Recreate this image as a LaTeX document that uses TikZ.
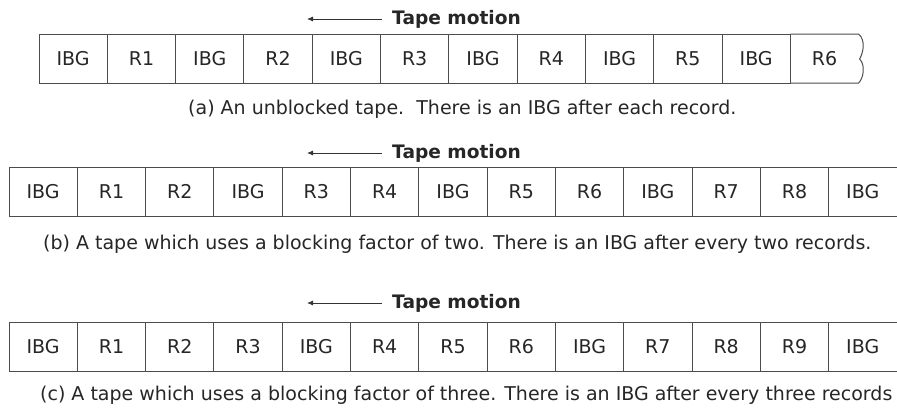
\documentclass[tikz,border=0pt]{standalone}
\usepackage{fontspec}
\setmainfont{DejaVu Sans}
\usetikzlibrary{arrows.meta}

\begin{document}
\begin{tikzpicture}
    [%%%%%%%%%%%%%%%%%%%%%%%%%%%%%%
        x=1pt, y=-1pt,
        tape/.style={draw=black!70, line width=1pt},
        cell/.style={rectangle,tape,minimum width=68.3pt,minimum height=49pt,inner sep=0pt,
            text height=13.8pt,text depth=0pt,text=black!85,font=\fontsize{19}{22}\selectfont},
        opencell/.style={cell,draw=none,outer sep=0pt},
        motion/.style={anchor=west,inner sep=0pt,text=black!85,font=\bfseries\fontsize{18.6}{22}\selectfont},
        caption/.style={anchor=west,inner sep=0pt,text=black!85,font=\fontsize{19}{22}\selectfont},
    ]%%%%%%%%%%%%%%%%%%%%%%%%%%%%%%

\useasboundingbox (0,0) rectangle (897,408);

% tape motion labels
\foreach \t/\y in {A/19,B/153,C/303}{
    \node[motion] (mot\t) at (392,\y) {Tape motion};
    \coordinate (tip\t) at (307,\y);
    \draw[black!80,line width=0.8pt,-{Latex[length=6pt,width=5pt]}] ([xshift=-10pt]mot\t.west) -- (tip\t);
}

% (a) unblocked tape
\foreach \lbl [count=\i] in {IBG,R1,IBG,R2,IBG,R3,IBG,R4,IBG,R5,IBG}
    \node[cell] (a\i) at ({39+68.3*(\i-0.5)},58.5) {\lbl};
\node[opencell] (a12) at ({39+68.3*11.5},58.5) {R6};
\draw[tape] (a12.north west) -- (a12.north east)
    .. controls +(7,6) and +(4,-7) .. ++(1,25)
    .. controls +(6,6) and +(5,-5) .. (a12.south east) -- (a12.south west);
\node[caption] (capA) at (188,109) {(a) An unblocked tape.\ \ There is an IBG after each record.};

% (b) blocking factor two
\foreach \lbl [count=\i] in {IBG,R1,R2,IBG,R3,R4,IBG,R5,R6,IBG,R7,R8}
    \node[cell] (b\i) at ({9+68.3*(\i-0.5)},192) {\lbl};
\node[opencell] (b13) at ({9+68.3*12.5},192) {IBG};
\draw[tape] (b13.north west) -- (b13.north east) (b13.south west) -- (b13.south east);
\node[caption] (capB) at (43,244) {(b) A tape which uses a blocking factor of two. There is an IBG after every two records.};

% (c) blocking factor three
\foreach \lbl [count=\i] in {IBG,R1,R2,R3,IBG,R4,R5,R6,IBG,R7,R8,R9}
    \node[cell] (c\i) at ({9+68.3*(\i-0.5)},346.5) {\lbl};
\node[opencell] (c13) at ({9+68.3*12.5},346.5) {IBG};
\draw[tape] (c13.north west) -- (c13.north east) (c13.south west) -- (c13.south east);
\node[caption] (capC) at (40,395.5) {(c) A tape which uses a blocking factor of three. There is an IBG after every three records};
\end{tikzpicture}
\end{document}
